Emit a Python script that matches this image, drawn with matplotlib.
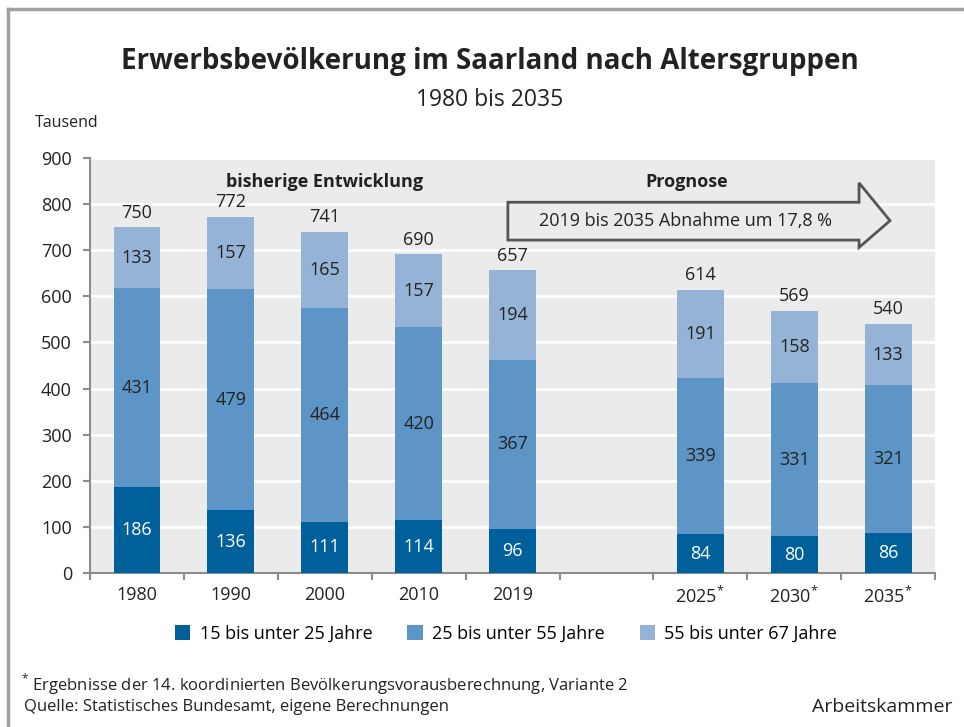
import matplotlib
matplotlib.use("Agg")
import matplotlib.pyplot as plt
from matplotlib.patches import Polygon, Patch
from matplotlib.lines import Line2D
import numpy as np

plt.rcParams['font.family'] = ['Open Sans', 'DejaVu Sans']

years = ["1980", "1990", "2000", "2010", "2019",
         r"2025$^{\mathregular{*}}$", r"2030$^{\mathregular{*}}$", r"2035$^{\mathregular{*}}$"]
positions = [0, 1, 2, 3, 4, 6, 7, 8]
young = [186, 136, 111, 114, 96, 84, 80, 86]
middle = [431, 479, 464, 420, 367, 339, 331, 321]
older = [133, 157, 165, 157, 194, 191, 158, 133]
totals = [750, 772, 741, 690, 657, 614, 569, 540]
series_names = ["15 bis unter 25 Jahre", "25 bis unter 55 Jahre", "55 bis unter 67 Jahre"]
colors = ["#00609C", "#5D95C6", "#95B3D7"]

fig = plt.figure(figsize=(9.64, 7.27), dpi=100)
ax = fig.add_axes([0.0934, 0.2118, 0.8766, 0.5709])
ax.set_facecolor("#EBEBEB")

x = np.array(positions)
w = 0.5
bottom = np.zeros(len(x))
for vals, col in zip([young, middle, older], colors):
    ax.bar(x, vals, w, bottom=bottom, color=col, zorder=3)
    bottom += np.array(vals)

fs = 13
for xi, y, m, o, t in zip(x, young, middle, older, totals):
    ax.text(xi, y / 2, str(y), ha="center", va="center", color="white", fontsize=fs, zorder=4)
    ax.text(xi, y + m / 2, str(m), ha="center", va="center", color="#222222", fontsize=fs, zorder=4)
    ax.text(xi, y + m + o / 2, str(o), ha="center", va="center", color="#222222", fontsize=fs, zorder=4)
    ax.text(xi, t + 12, str(t), ha="center", va="bottom", color="#222222", fontsize=fs, zorder=4)

ax.set_xlim(-0.5, 8.5)
ax.set_ylim(0, 900)
ax.set_yticks(range(0, 901, 100))
ax.grid(axis="y", color="white", linewidth=2, zorder=1)
ax.set_axisbelow(True)

ax.set_xticks(positions)
ax.set_xticklabels(years, fontsize=fs, color="#222222")
ax.set_xticks(np.arange(-0.5, 9, 1), minor=True)
ax.tick_params(axis="x", which="major", length=0, pad=9)
ax.tick_params(axis="x", which="minor", length=5, width=1.5, color="#8C8C8C")
ax.tick_params(axis="y", length=5, width=1.5, color="#8C8C8C", labelsize=fs, labelcolor="#222222", pad=8)

for s in ["top", "right"]:
    ax.spines[s].set_visible(False)
for s in ["left", "bottom"]:
    ax.spines[s].set_color("#8C8C8C")
    ax.spines[s].set_linewidth(1.5)

# annotations
ax.text(2, 848, "bisherige Entwicklung", ha="center", va="center", fontsize=fs, fontweight="bold", color="#222222")
ax.text(5.85, 848, "Prognose", ha="center", va="center", fontsize=fs, fontweight="bold", color="#222222")
arrow = Polygon([(3.95, 722), (7.69, 722), (7.69, 706), (8.02, 764), (7.69, 846), (7.69, 804), (3.95, 804)],
                closed=True, facecolor="#EBEBEB", edgecolor="#555555", linewidth=2, zorder=5)
ax.add_patch(arrow)
ax.text(5.84, 763, "2019 bis 2035 Abnahme um 17,8 %", ha="center", va="center", fontsize=fs, color="#222222", zorder=6)

fig.text(0.508, 0.915, "Erwerbsbevölkerung im Saarland nach Altersgruppen", ha="center", va="center",
         fontsize=20, fontweight="bold", color="#222222")
fig.text(0.508, 0.862, "1980 bis 2035", ha="center", va="center", fontsize=16.5, color="#222222")
fig.text(0.036, 0.831, "Tausend", ha="left", va="center", fontsize=11.5, color="#222222")

handles = [Patch(facecolor=c) for c in colors]
fig.legend(handles, series_names, loc="center", bbox_to_anchor=(0.525, 0.128), ncol=3, frameon=False,
           fontsize=fs, handlelength=0.85, handleheight=0.85, columnspacing=1.95, handletextpad=0.5)

fig.text(0.022, 0.058, r"$^{\mathregular{*}}$ Ergebnisse der 14. koordinierten Bevölkerungsvorausberechnung, Variante 2",
         ha="left", va="center", fontsize=12, color="#222222")
fig.text(0.025, 0.028, "Quelle: Statistisches Bundesamt, eigene Berechnungen",
         ha="left", va="center", fontsize=12, color="#222222")
fig.text(0.988, 0.028, "Arbeitskammer", ha="right", va="center", fontsize=14, color="#222222")

# outer frame (top and left)
fig.add_artist(Line2D([0.0085, 0.0085], [0, 0.987], transform=fig.transFigure, color="#A0A0A0", linewidth=2.5))
fig.add_artist(Line2D([0.0085, 1], [0.987, 0.987], transform=fig.transFigure, color="#A0A0A0", linewidth=2.5))

fig.savefig("out.png", dpi=100)
